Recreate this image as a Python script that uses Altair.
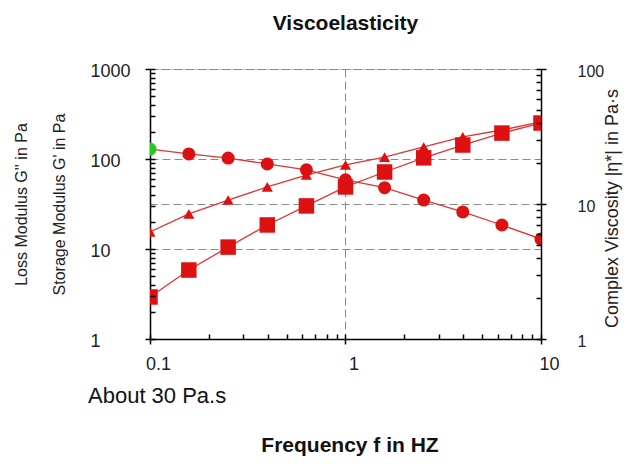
import altair as alt
import pandas as pd

# Frequency in Hz
freq = [0.1, 0.158, 0.251, 0.398, 0.631, 1.0, 1.585, 2.512, 3.981, 6.31, 10.0]
# Loss modulus G'' (Pa) - triangles
loss_mod = [15.5, 24.5, 35.0, 48.9, 66.4, 85.8, 105, 136, 176, 210, 258]
# Storage modulus G' (Pa) - squares
storage_mod = [2.93, 5.84, 10.5, 18.5, 30.1, 48.9, 71.7, 103, 143, 194, 251]
# Complex viscosity |eta*| (Pa.s) - circles
viscosity = [25.5, 23.5, 21.9, 19.8, 17.9, 15.1, 13.2, 10.7, 8.73, 6.99, 5.5]

x_major = [0.1, 1, 10]
x_minor = [0.1, 0.2, 0.3, 0.4, 0.5, 0.6, 0.7, 0.8, 0.9, 1, 2, 3, 4, 5, 6, 7, 8, 9, 10]
yl_major = [1, 10, 100, 1000]
yl_minor = [1, 2, 3, 4, 5, 6, 7, 8, 9, 10, 20, 30, 40, 50, 60, 70, 80, 90, 100,
            200, 300, 400, 500, 600, 700, 800, 900, 1000]
yr_major = [1, 10, 100]
yr_minor = [1, 2, 3, 4, 5, 6, 7, 8, 9, 10, 20, 30, 40, 50, 60, 70, 80, 90, 100]

df = pd.DataFrame({"freq": freq, "gpp": loss_mod, "gp": storage_mod, "eta": viscosity})

RED = "#dd1111"
LINE = "#e03333"
GREEN = "#22cc22"
W, H = 391, 270
FONT = "Liberation Sans"

xscale = alt.Scale(type="log", domain=[0.1, 10], nice=False)
ylscale = alt.Scale(type="log", domain=[1, 1000], nice=False)
yrscale = alt.Scale(type="log", domain=[1, 100], nice=False)

grid_kw = dict(grid=True, gridDash=[8, 4], gridColor="#8a8a8a", gridWidth=1)
inner_kw = dict(labels=False, domain=False, grid=False, title=None, tickSize=5,
                tickColor="black", tickWidth=1.5, zindex=1)

# G'' : triangles, main bottom and left axes
loss = alt.Chart(df).mark_line(
    color=LINE, strokeWidth=1.3, clip=True,
    point=alt.OverlayMarkDef(shape="triangle-up", size=125, filled=True, color=RED,
                             opacity=1, clip=True),
).encode(
    x=alt.X("freq:Q", scale=xscale, axis=alt.Axis(
        orient="bottom", values=x_major, format="~g", tickSize=5, tickWidth=1.5,
        tickColor="black", domainColor="black", domainWidth=1.5,
        labelFont=FONT, labelFontSize=18, labelColor="#222", labelPadding=11,
        labelFlush=False, labelOffset=8,
        title="Frequency f in HZ", titleFont=FONT, titleFontSize=21,
        titleFontWeight="bold", titleColor="#111", titleX=W / 2 + 4, titleY=112,
        titleBaseline="alphabetic", titleAlign="center", **grid_kw)),
    y=alt.Y("gpp:Q", scale=ylscale, axis=alt.Axis(
        orient="left", values=yl_major, format="d", tickSize=5, tickWidth=1.5,
        tickColor="black", domainColor="black", domainWidth=1.5,
        labelFont=FONT, labelFontSize=18, labelColor="#222",
        labelAlign="left", labelPadding=55, labelOffset=2,
        title=["Loss Modulus G'' in Pa", "Storage Modulus G' in Pa"],
        titleFont=FONT, titleFontSize=16, titleFontWeight="normal",
        titleColor="#222", titleLineHeight=38, titleAngle=270, titleX=-129,
        titleY=H / 2, titleBaseline="middle", titleAlign="center", **grid_kw)),
)

# G' : squares, inner tick axes (x and left y)
storage = alt.Chart(df).mark_line(
    color=LINE, strokeWidth=1.3, clip=True,
    point=alt.OverlayMarkDef(shape="square", size=240, filled=True, color=RED,
                             opacity=1, clip=True),
).encode(
    x=alt.X("freq:Q", scale=xscale, axis=alt.Axis(
        orient="top", offset=-H, values=x_minor, **inner_kw)),
    y=alt.Y("gp:Q", scale=ylscale, axis=alt.Axis(
        orient="right", offset=-W, values=yl_minor, **inner_kw)),
)

# |eta*| line, main right axis
visc_line = alt.Chart(df).mark_line(color=LINE, strokeWidth=1.3, clip=True).encode(
    x=alt.X("freq:Q", scale=xscale, axis=None),
    y=alt.Y("eta:Q", scale=yrscale, axis=alt.Axis(
        orient="right", values=yr_major, format="d", tickSize=5, tickWidth=1.5,
        tickColor="black", domainColor="black", domainWidth=1.5,
        labelFont=FONT, labelFontSize=16, labelColor="#222",
        labelAlign="left", labelPadding=31, labelOffset=2,
        title="Complex Viscosity |η*| in Pa·s", titleFont=FONT,
        titleFontSize=18, titleFontWeight="normal", titleColor="#222",
        titleAngle=270, titleX=71, titleY=139, titleBaseline="middle",
        titleAlign="center", **grid_kw)),
)

# |eta*| points, inner right ticks
visc_pts = alt.Chart(df).mark_point(shape="circle", size=170, filled=True, opacity=1,
                                    clip=True).encode(
    x=alt.X("freq:Q", scale=xscale, axis=None),
    y=alt.Y("eta:Q", scale=yrscale, axis=alt.Axis(
        orient="left", offset=-W, values=yr_minor, **inner_kw)),
    color=alt.condition(alt.datum.freq <= 0.1, alt.value(GREEN), alt.value(RED)),
)

note = alt.Chart(pd.DataFrame({"t": ["About 30 Pa.s"]})).mark_text(
    align="left", baseline="middle", font=FONT, fontSize=22, color="#111"
).encode(text="t:N", x=alt.value(-62), y=alt.value(327))

chart = alt.layer(loss, storage, visc_line, visc_pts, note).resolve_scale(
    y="independent"
).resolve_axis(x="independent", y="independent").properties(
    width=W, height=H,
    title=alt.TitleParams("Viscoelasticity", font=FONT, fontSize=21,
                          fontWeight="bold", color="#111", anchor="middle", offset=28),
    autosize=alt.AutoSizeParams(type="none"),
    padding={"left": 142, "top": 61, "right": 82, "bottom": 117},
).configure_view(stroke="black", strokeWidth=1.5).configure(background="white")

chart.save("out.html", embed_options={"renderer": "svg", "actions": False})
